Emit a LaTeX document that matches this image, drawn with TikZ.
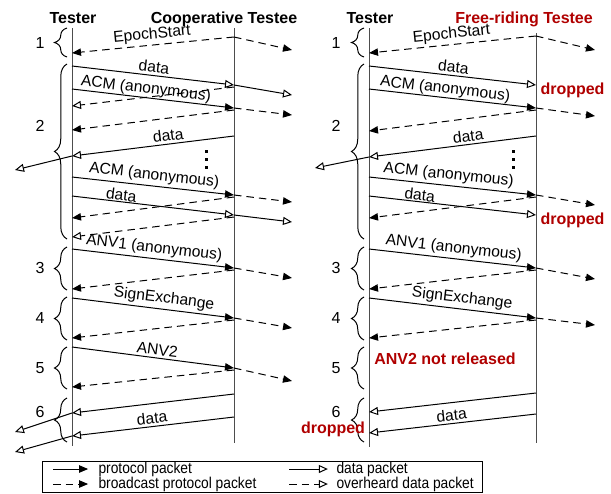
\documentclass[tikz,border=0pt]{standalone}
\usepackage{fontspec}
\setmainfont{Liberation Sans}
\usetikzlibrary{arrows.meta,positioning,decorations.pathreplacing}
\definecolor{ink}{HTML}{000000}
\definecolor{lifegray}{HTML}{4D4D4D}
\definecolor{dropred}{HTML}{B00000}
\tikzset{proto/.style={-{Triangle[length=5.4pt,width=4.4pt]},line width=.6pt,draw=ink},bcast/.style={proto,dash pattern=on 4.5pt off 3pt},datap/.style={-{Triangle[length=5.4pt,width=4.8pt,fill=white]},line width=.6pt,draw=ink},heard/.style={datap,dash pattern=on 4.5pt off 3pt},life/.style={line width=.6pt,draw=lifegray},brc/.style={decorate,decoration={brace,amplitude=7.5pt},line width=.6pt},msg/.style={font=\fontsize{9.4}{11}\selectfont,above,sloped,inner sep=1.5pt},tight/.style={inner sep=.3pt},head/.style={font=\bfseries\fontsize{9.6}{11}\selectfont,anchor=base},num/.style={font=\fontsize{9.6}{11}\selectfont},drop/.style={font=\bfseries\fontsize{9.6}{11}\selectfont,text=dropred},leg/.style={font=\fontsize{9.4}{10}\selectfont,anchor=west,inner sep=1pt}}
\newcommand{\legtext}[1]{\scalebox{.88}[1]{#1}}

\begin{document}
\begin{tikzpicture}[x=.6pt,y=-.6pt]
\useasboundingbox (0,0) rectangle (611,493);
\foreach \y in {28,53,66,89,106,130,156,177,196,218,237,249,289,298,338,347,387,413,436,446} \coordinate (a\y) at (72,\y);
\foreach \y in {28,37,85,87,108,110,136,195,197,215,217,268,270,318,320,368,370,394,417,443} \coordinate (b\y) at (234,\y);
\foreach \y in {50,95,115,202,222,278,328,381} \coordinate (c\y) at (292,\y);
\foreach \y in {170,432,452} \coordinate (w\y) at (15,\y);
\foreach \y in {28,53,66,89,131,157,177,196,218,249,289,298,338,412,433,447} \coordinate (d\y) at (369,\y);
\foreach \y in {33,36,85,108,110,136,195,197,215,268,270,318,320,393,414,443} \coordinate (e\y) at (536,\y);
\foreach \y in {50,116,205,279,325} \coordinate (f\y) at (595,\y);
\coordinate (v168) at (315,168);
\node[head] (tester1) at (73,23) {Tester};
\node[head] (coop) at (224,23) {Cooperative Testee};
\node[head] (tester2) at (370,23) {Tester};
\node[head,text=dropred] (free) at (524,23) {Free-riding Testee};
\draw[life] (a28)--(a446);\draw[life] (b28)--(b443);
\draw[life] (d28)--(d447);\draw[life] (e33)--(e443);
\foreach \t/\b in {28/57,64/239,247/290,297/340,347/389,398/442} {\draw[brc] (67,\b)--(67,\t);\draw[brc] (364,\b)--(364,\t);}
\foreach \n/\y in {1/43,2/126,3/268,4/318,5/368,6/412} {\node[num] (la\n) at (40,\y) {\n};\node[num] (ra\n) at (336,\y) {\n};}
\foreach \y in {151,159,167} {\fill (204.5,\y-1.5) rectangle ++(3,3);\fill (511.5,\y-1.5) rectangle ++(3,3);}
\draw[bcast] (b37)--node[msg]{EpochStart} (a53);\draw[bcast] (b37)--(c50);
\draw[datap] (a66)--node[msg]{data} (b85);\draw[datap] (b85)--(c95);
\draw[proto] (a89)--node[msg,tight,pos=.45]{ACM (anonymous)} (b108);\draw[bcast] (b108)--(c115);
\draw[heard] (b87)--(a106);
\draw[bcast] (b110)--(a130);
\draw[datap] (b136)--node[msg,pos=.4]{data} (a156);\draw[datap] (a156)--(w170);
\draw[proto] (a177)--node[msg]{ACM (anonymous)} (b195);\draw[bcast] (b195)--(c202);
\draw[datap] (a196)--node[msg,tight,pos=.3]{data} (b215);\draw[datap] (b215)--(c222);
\draw[bcast] (b197)--(a218);
\draw[heard] (b217)--(a237);
\draw[proto] (a249)--node[msg]{ANV1 (anonymous)} (b268);\draw[bcast] (b268)--(c278);
\draw[bcast] (b270)--(a289);
\draw[proto] (a298)--node[msg,pos=.56]{SignExchange} (b318);\draw[bcast] (b318)--(c328);
\draw[bcast] (b320)--(a338);
\draw[proto] (a347)--node[msg,pos=.52]{ANV2} (b368);\draw[bcast] (b368)--(c381);
\draw[bcast] (b370)--(a387);
\draw[datap] (b394)--(a413);\draw[datap] (a413)--(w432);
\draw[datap] (b417)--node[msg]{data} (a436);\draw[datap] (a436)--(w452);
\draw[bcast] (e36)--node[msg]{EpochStart} (d53);\draw[bcast] (e36)--(f50);
\draw[datap] (d66)--node[msg]{data} (e85);
\node[drop,anchor=west,inner sep=1pt] (drop1) at ([shift={(1.5pt,-3pt)}]e85) {dropped};
\draw[proto] (d89)--node[msg,tight,pos=.45]{ACM (anonymous)} (e108);\draw[bcast] (e108)--(f116);
\draw[bcast] (e110)--(d131);
\draw[datap] (e136)--node[msg,pos=.4]{data} (d157);\draw[datap] (d157)--(v168);
\draw[proto] (d177)--node[msg,pos=.47]{ACM (anonymous)} (e195);\draw[bcast] (e195)--(f205);
\draw[datap] (d196)--node[msg,tight,pos=.3]{data} (e215);
\node[drop,anchor=west,inner sep=1pt] (drop2) at ([shift={(1.5pt,-3pt)}]e215) {dropped};
\draw[bcast] (e197)--(d218);
\draw[proto] (d249)--node[msg]{ANV1 (anonymous)} (e268);\draw[bcast] (e268)--(f279);
\draw[bcast] (e270)--(d289);
\draw[proto] (d298)--node[msg,pos=.55]{SignExchange} (e318);\draw[bcast] (e318)--(f325);
\draw[bcast] (e320)--(d338);
\node[drop] (norel) at (445,359) {ANV2 not released};
\draw[datap] (e393)--(d412);
\draw[datap] (e414)--node[msg]{data} (d433);
\node[drop] (drop3) at (333,429) {dropped};
\draw[line width=.6pt] (42,461) rectangle (482,492);
\node[leg] (lp1) at (96.5,469) {\legtext{protocol packet}};
\node[leg] (lp2) at (96.5,484) {\legtext{broadcast protocol packet}};
\node[leg] (lp3) at (334.5,469) {\legtext{data packet}};
\node[leg] (lp4) at (334.5,484) {\legtext{overheard data packet}};
\coordinate (k1) at (53,469);\coordinate (k2) at (53,484);
\coordinate (k3) at (289,469);\coordinate (k4) at (289,484);
\draw[proto] (k1)--([xshift=-5pt]lp1.west);\draw[bcast] (k2)--([xshift=-5pt]lp2.west);
\draw[datap] (k3)--([xshift=-4pt]lp3.west);\draw[heard] (k4)--([xshift=-4pt]lp4.west);
\end{tikzpicture}
\end{document}
